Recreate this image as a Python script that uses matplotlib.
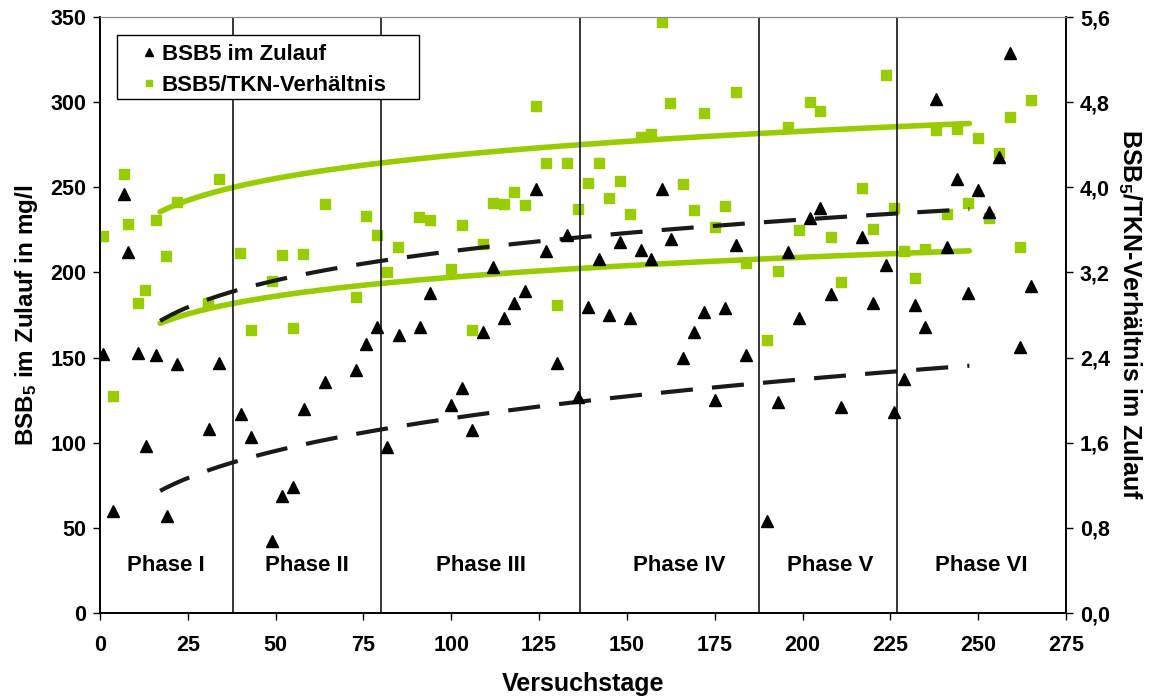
import numpy as np
from matplotlib import pyplot as plt
from matplotlib.patches import Rectangle
from matplotlib.ticker import FuncFormatter

plt.rcParams['font.family'] = ['Liberation Sans', 'DejaVu Sans']
plt.rcParams['font.weight'] = 'bold'
plt.rcParams['mathtext.fontset'] = 'custom'
plt.rcParams['mathtext.rm'] = 'Liberation Sans:bold'
plt.rcParams['mathtext.it'] = 'Liberation Sans:bold'
plt.rcParams['mathtext.bf'] = 'Liberation Sans:bold'

# BSB5 im Zulauf (mg/l)
days_bsb = [0.8, 3.8, 6.9, 7.9, 10.9, 13, 15.9, 19, 21.9, 30.9, 34, 40, 43, 49, 51.9,
            54.9, 58, 64, 72.9, 75.8, 78.8, 81.6, 85, 91, 93.9, 100, 103, 106, 108.9,
            112, 114.9, 117.9, 120.9, 124, 127, 130, 133, 136, 139, 142, 145, 148, 151,
            154, 157, 160, 162.6, 166, 169, 172, 175, 178, 181, 184, 190, 193, 196, 199,
            202, 205, 208, 211, 217, 220, 223.8, 226, 229, 232, 235, 238, 241, 244, 247,
            250, 253, 256, 259, 262, 265]
bsb5 = [152, 60, 246, 212, 153, 98, 151.5, 57, 146, 108, 147, 117, 103.5, 42, 69,
        74, 119.6, 135.6, 143, 158, 168, 97.5, 163.4, 168, 188, 122, 132, 107.5, 165,
        203, 173.5, 182, 189, 249, 212.6, 146.6, 222, 127, 179.5, 208, 175, 218, 173,
        213, 208, 249, 219.5, 150, 165, 177, 125, 179, 216, 151.5, 54, 124, 212, 173.4,
        232, 238, 187.5, 121, 220.6, 182, 204.5, 118, 137.4, 181, 168, 302, 215, 255, 188,
        248.4, 235.5, 268, 329, 156, 192]

# BSB5/TKN-Verhaeltnis
days_ratio = [0.8, 3.8, 6.9, 7.9, 10.9, 12.9, 15.9, 18.9, 21.8, 30.7, 34, 39.9, 42.9,
              48.9, 51.9, 54.9, 57.9, 64, 72.9, 75.8, 78.8, 81.6, 84.9, 90.9, 93.9, 99.9,
              103, 106, 108.9, 112, 114.9, 117.9, 120.9, 124, 127, 130, 132.9, 136, 138.9,
              142, 145, 148, 151, 154, 157, 160, 162.3, 166, 169, 172, 175, 178, 181, 184,
              190, 193, 196, 199, 202, 205, 208, 211, 217, 220, 223.7, 226, 229, 232, 235,
              238, 241, 244, 247, 250, 253, 256, 259, 262, 265]
ratio = [3.545, 2.04, 4.13, 3.66, 2.91, 3.035, 3.69, 3.357, 3.864, 2.91, 4.075, 3.38, 2.66,
         3.12, 3.36, 2.68, 3.37, 3.843, 2.97, 3.73, 3.55, 3.2, 3.44, 3.72, 3.69, 3.23,
         3.65, 2.66, 3.47, 3.85, 3.84, 3.96, 3.83, 4.76, 4.23, 2.89, 4.23, 3.8, 4.04,
         4.23, 3.9, 4.06, 3.75, 4.475, 4.5, 5.55, 4.79, 4.03, 3.79, 4.70, 3.63, 3.82, 4.9,
         3.29, 2.57, 3.21, 4.57, 3.6, 4.8, 4.72, 3.53, 3.11, 3.99, 3.61, 5.06, 3.81, 3.40,
         3.15, 3.42, 4.54, 3.75, 4.55, 3.85, 4.46, 3.71, 4.32, 4.66, 3.44, 4.82]

# Phasen
phase_bounds = [37.9, 80, 136.6, 187.6, 226.9]
phase_names = ['Phase I', 'Phase II', 'Phase III', 'Phase IV', 'Phase V', 'Phase VI']
phase_label_x = [18.8, 59, 108.5, 165, 208, 250.8]

# Potenz-Trendlinien y = c * x^p
bsb_trend_upper = (121.6, 0.1212)
bsb_trend_lower = (33.9, 0.264)
ratio_trend_upper = (3.051, 0.0745)
ratio_trend_lower = (2.147, 0.0836)
trend_start, trend_end = 17.1, 247.5

green = '#99CC00'

fig = plt.figure(figsize=(11.54, 6.97), dpi=100)
ax = fig.add_axes([0.0867, 0.1205, 0.837, 0.855])
ax2 = ax.twinx()

xt = np.linspace(trend_start, trend_end, 300)

for b in phase_bounds:
    ax.axvline(b, color='black', lw=1.1, zorder=1)
for name, px in zip(phase_names, phase_label_x):
    ax.text(px, 28, name, ha='center', va='center', fontsize=16, fontweight='bold')

for c, p in [bsb_trend_upper, bsb_trend_lower]:
    ax.plot(xt, c * xt ** p, color='#1a1a1a', lw=3, dashes=(7.7, 4.6), zorder=2)
for c, p in [ratio_trend_upper, ratio_trend_lower]:
    ax2.plot(xt, c * xt ** p, color=green, lw=4, solid_capstyle='round', zorder=2)

ax.plot(days_bsb, bsb5, linestyle='none', marker='^', ms=8, color='black',
        label='BSB5 im Zulauf', zorder=4)
ax2.plot(days_ratio, ratio, linestyle='none', marker='s', ms=7.5, color=green,
         mec=green, label='BSB5/TKN-Verhältnis', zorder=3)

ax.set_zorder(ax2.get_zorder() + 1)
ax.patch.set_visible(False)

ax.set_xlim(0, 275)
ax.set_ylim(0, 350)
ax2.set_ylim(0, 5.6)
ax.set_xticks(np.arange(0, 276, 25))
ax.set_yticks(np.arange(0, 351, 50))
ax2.set_yticks(np.arange(0, 5.61, 0.8))
ax2.yaxis.set_major_formatter(FuncFormatter(lambda v, pos: ('%.1f' % v).replace('.', ',')))

for a in (ax, ax2):
    a.tick_params(direction='out', length=5, width=1, labelsize=15.5, pad=5)
    for lab in a.get_xticklabels() + a.get_yticklabels():
        lab.set_fontweight('bold')
    a.spines['top'].set_color('#888888')
    a.spines['left'].set_linewidth(1.2)
    a.spines['bottom'].set_linewidth(1.2)
    a.spines['right'].set_linewidth(1.2)
ax.tick_params(axis='x', pad=11)

ax.set_xlabel('Versuchstage', fontsize=18, fontweight='bold', labelpad=11)
ax.set_ylabel('BSB$_5$ im Zulauf in mg/l', fontsize=17.5, fontweight='bold', labelpad=7)
ax2.set_ylabel('BSB$_5$/TKN-Verhältnis im Zulauf', fontsize=18, fontweight='bold',
               rotation=270, labelpad=24)

# Legende mit eigenem Rahmen (breiterer Innenabstand links/rechts)
ax.add_patch(Rectangle((0.0173, 0.8624), 0.3129, 0.1074, transform=ax.transAxes,
                       facecolor='white', edgecolor='black', lw=1.0, zorder=6))
h1, l1 = ax.get_legend_handles_labels()
h2, l2 = ax2.get_legend_handles_labels()
leg = ax.legend(h1 + h2, l1 + l2, loc='upper left', bbox_to_anchor=(0.0418, 0.9556),
                frameon=False, borderpad=0, borderaxespad=0, handlelength=0.8,
                handletextpad=0.16, labelspacing=0.45, markerscale=0.65,
                prop={'weight': 'bold', 'size': 16})
leg.set_zorder(7)

plt.savefig('out.png', dpi=100)
